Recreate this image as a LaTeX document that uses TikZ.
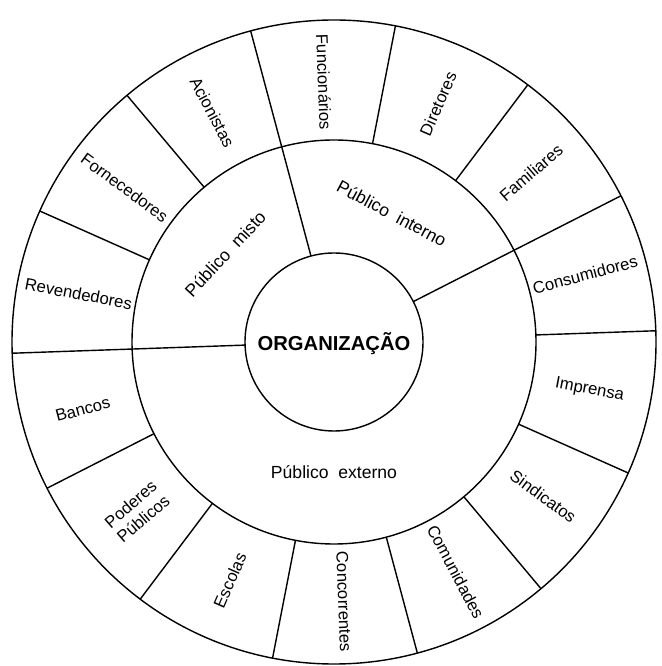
\documentclass[tikz,border=0pt]{standalone}
\usepackage{fontspec}
\setmainfont{Liberation Sans}
\usetikzlibrary{positioning}
\tikzset{
  every node/.style={
    font=\fontsize{9.5}{11}\selectfont
  },
  ring/.style={
    shape=circle,
    draw=black,
    line width=0.8pt,
    inner sep=0pt,
    outer sep=0pt
  },
  organization/.style={
    ring,
    minimum size=3.56cm,
    text depth=0pt,
    font=\fontsize{11.5}{13}\selectfont\bfseries
  },
  divider/.style={
    draw=black,
    line width=0.8pt
  },
  publicgroup/.style={
    font=\fontsize{10}{12}\selectfont,
    inner sep=0pt
  },
  stakeholder/.style={
    align=center,
    inner sep=0pt
  }
}

\begin{document}
\begin{tikzpicture}
  \useasboundingbox (-6.68,-6.48) rectangle (6.54,6.84);
  \node [ring, minimum size=12.88cm] (outer) at (0,0) {};
  \node [ring, minimum size=8.08cm] (mid) at (0,0) {};
  \node [organization] (org) at (0,0) {ORGANIZAÇÃO};

  \foreach \k [evaluate=\k as \a using 2.16+25.714*\k] in {0,...,13}
    \draw [divider] (mid.\a) -- (outer.\a);
  \foreach \a in {27.87,105.01,182.16}
    \draw [divider] (org.\a) -- (mid.\a);

  \node [publicgroup, rotate=-28] (interno) at (65.8:2.82) {Público\ \ interno};
  \node [publicgroup, rotate=47] (misto) at (141:2.8) {Público\ \ misto};
  \node [publicgroup] (externo) at (-90:2.6) {Público\ \ externo};

  \foreach \lab/\ang/\rot [count=\i] in {
      Consumidores/15/15, Familiares/40.7/40.7, Diretores/66.4/66.4,
      Funcionários/92.2/-87.8, Acionistas/117.9/-62.1,
      Fornecedores/143.6/-36.4, Revendedores/169.3/-10.7,
      Bancos/195/15, {Poderes\\Públicos}/220.7/40.7, Escolas/246.4/66.4,
      Concorrentes/272.2/-87.8, Comunidades/297.9/-62.1,
      Sindicatos/323.6/-36.4, Imprensa/349.3/-10.7}
    \node [stakeholder, rotate=\rot] (s\i) at (\ang:5.2) {\lab};
\end{tikzpicture}
\end{document}
